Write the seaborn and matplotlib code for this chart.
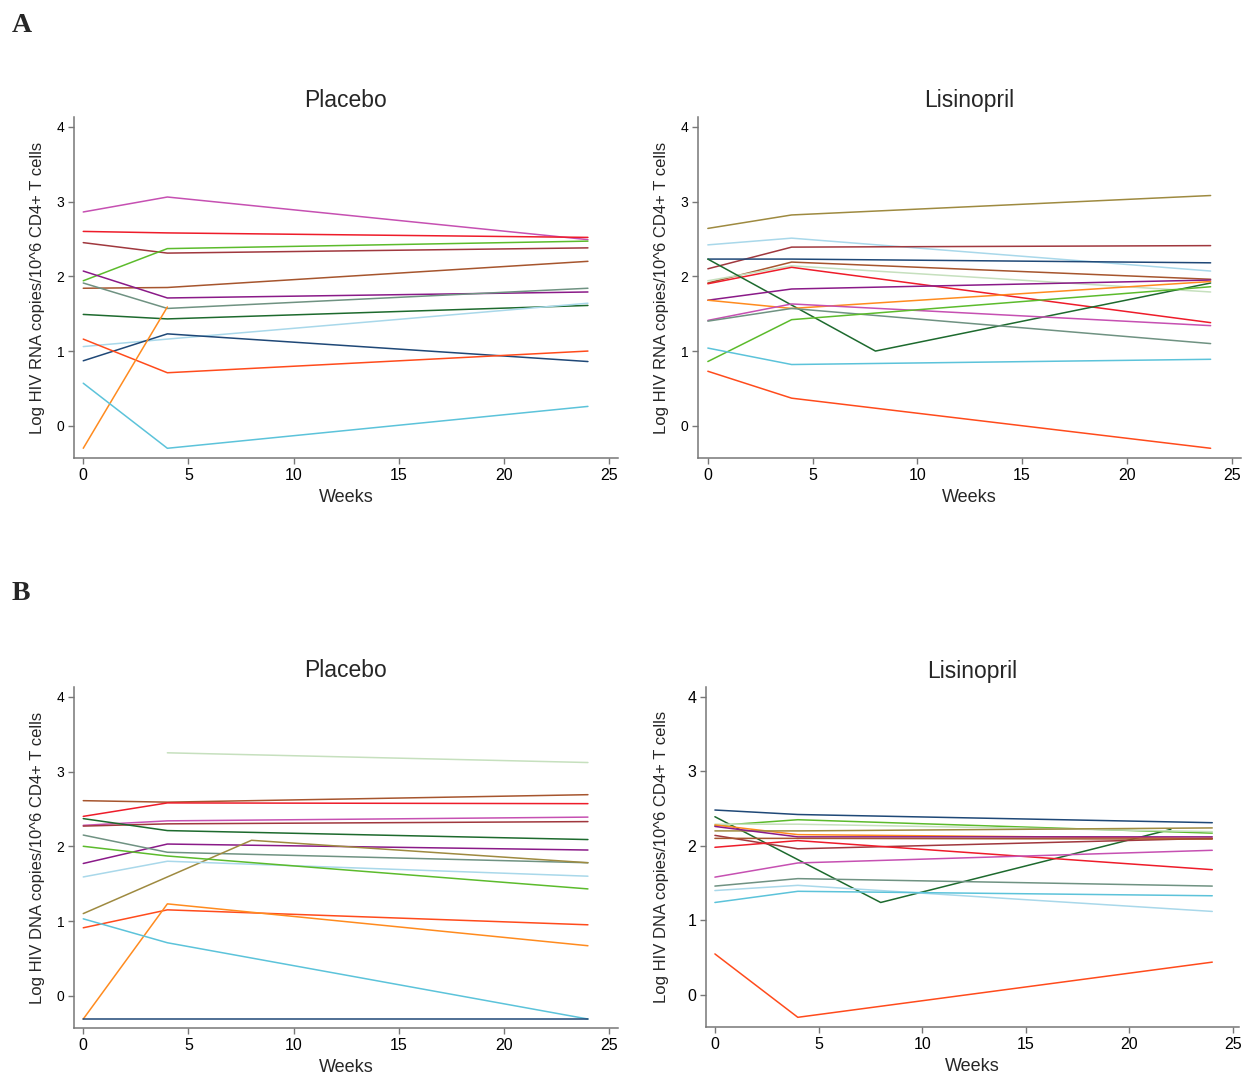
import matplotlib
matplotlib.use('Agg')
import matplotlib.pyplot as plt
import seaborn as sns
import pandas as pd

sns.set_style('ticks')
plt.rcParams['font.family'] = ['Liberation Sans', 'DejaVu Sans']

# ---------------- colours per subject ----------------
COLORS = {
    'orchid': '#c650b2', 'red': '#ee1c2a', 'maroon': '#a0383e', 'lgreen': '#5cbb2c',
    'sienna': '#a6552e', 'purple': '#8a1a88', 'graygreen': '#6f9282', 'dgreen': '#1d6a2e',
    'lblue': '#a9d8ea', 'navy': '#1f4877', 'orangered': '#ff4b1c', 'orange': '#ff8b1f',
    'cyan': '#5cc3da', 'olive': '#9e8a40', 'palegreen': '#c6e0be',
}

# ---------------- Panel A: HIV RNA, Placebo ----------------
rna_pla_ids = ['orchid', 'red', 'maroon', 'lgreen', 'sienna', 'purple', 'graygreen',
               'dgreen', 'lblue', 'navy', 'orangered', 'orange', 'cyan']
rna_pla_weeks = [[0, 4, 24]] * 11 + [[0, 4], [0, 4, 24]]
rna_pla_vals = [[2.86, 3.06, 2.49], [2.60, 2.58, 2.52], [2.45, 2.31, 2.38],
                [1.94, 2.37, 2.47], [1.84, 1.85, 2.20], [2.07, 1.71, 1.79],
                [1.91, 1.57, 1.84], [1.49, 1.43, 1.61], [1.06, 1.16, 1.64],
                [0.87, 1.23, 0.86], [1.16, 0.71, 1.00], [-0.30, 1.59],
                [0.57, -0.30, 0.26]]

# ---------------- Panel A: HIV RNA, Lisinopril ----------------
rna_lis_ids = ['olive', 'lblue', 'maroon', 'navy', 'sienna', 'palegreen', 'red', 'dgreen',
               'purple', 'orange', 'orchid', 'graygreen', 'lgreen', 'cyan', 'orangered']
rna_lis_weeks = [[0, 4, 24]] * 7 + [[0, 8, 24]] + [[0, 4, 24]] * 7
rna_lis_vals = [[2.64, 2.82, 3.08], [2.42, 2.51, 2.07], [2.10, 2.39, 2.41],
                [2.23, 2.23, 2.18], [1.91, 2.19, 1.96], [1.94, 2.14, 1.79],
                [1.90, 2.12, 1.38], [2.23, 1.00, 1.91], [1.68, 1.83, 1.95],
                [1.68, 1.57, 1.93], [1.41, 1.63, 1.34], [1.40, 1.57, 1.10],
                [0.86, 1.42, 1.86], [1.04, 0.82, 0.89], [0.73, 0.37, -0.30]]

# ---------------- Panel B: HIV DNA, Placebo ----------------
dna_pla_ids = ['palegreen', 'sienna', 'red', 'orchid', 'maroon', 'dgreen', 'purple',
               'graygreen', 'olive', 'lblue', 'lgreen', 'orangered', 'orange', 'cyan', 'navy']
dna_pla_weeks = [[4, 24]] + [[0, 4, 24]] * 7 + [[0, 8, 24]] + [[0, 4, 24]] * 6
dna_pla_vals = [[3.25, 3.12], [2.61, 2.59, 2.69], [2.40, 2.58, 2.57],
                [2.28, 2.34, 2.39], [2.27, 2.30, 2.33], [2.37, 2.21, 2.09],
                [1.77, 2.03, 1.95], [2.15, 1.92, 1.78], [1.10, 2.08, 1.78],
                [1.59, 1.80, 1.60], [2.00, 1.87, 1.43], [0.91, 1.15, 0.95],
                [-0.31, 1.23, 0.67], [1.03, 0.71, -0.31], [-0.31, -0.31, -0.31]]

# ---------------- Panel B: HIV DNA, Lisinopril ----------------
dna_lis_ids = ['navy', 'dgreen', 'lgreen', 'palegreen', 'orange', 'olive', 'purple',
               'maroon', 'sienna', 'red', 'orchid', 'graygreen', 'lblue', 'cyan', 'orangered']
dna_lis_weeks = [[0, 4, 24], [0, 8, 22]] + [[0, 4, 24]] * 13
dna_lis_vals = [[2.48, 2.42, 2.31], [2.39, 1.24, 2.22], [2.27, 2.35, 2.17],
                [2.29, 2.29, 2.19], [2.28, 2.15, 2.10], [2.20, 2.20, 2.24],
                [2.26, 2.12, 2.12], [2.14, 1.96, 2.10], [2.10, 2.10, 2.09],
                [1.98, 2.07, 1.68], [1.58, 1.77, 1.94], [1.46, 1.56, 1.46],
                [1.40, 1.47, 1.12], [1.24, 1.39, 1.33], [0.55, -0.30, 0.44]]

x_ticks = [0, 5, 10, 15, 20, 25]
y_ticks = [0, 1, 2, 3, 4]
rna_label = 'Log HIV RNA copies/10^6 CD4+ T cells'
dna_label = 'Log HIV DNA copies/10^6 CD4+ T cells'


def long_df(ids, weeks, vals):
    rows = []
    for sid, ws, vs in zip(ids, weeks, vals):
        for w, v in zip(ws, vs):
            rows.append({'subject': sid, 'week': w, 'value': v})
    return pd.DataFrame(rows)


W, H = 1248, 1075
fig = plt.figure(figsize=(W / 100, H / 100), dpi=100)


def add_ax(l, r, t, b):
    return fig.add_axes([l / W, 1 - b / H, (r - l) / W, (b - t) / H])


AXIS_GRAY = '#777777'
panels = [
    # (ids, weeks, vals, rect, xlim, ylim, title, ylabel, ytick size, ylabel x)
    (rna_pla_ids, rna_pla_weeks, rna_pla_vals, (74, 618, 117, 458), (-0.44, 25.43),
     (-0.43, 4.13), 'Placebo', rna_label, 10, -0.053),
    (rna_lis_ids, rna_lis_weeks, rna_lis_vals, (698, 1241, 117, 458), (-0.47, 25.45),
     (-0.43, 4.13), 'Lisinopril', rna_label, 10, -0.053),
    (dna_pla_ids, dna_pla_weeks, dna_pla_vals, (74, 618, 687, 1028), (-0.44, 25.43),
     (-0.43, 4.13), 'Placebo', dna_label, 10, -0.053),
    (dna_lis_ids, dna_lis_weeks, dna_lis_vals, (706, 1239, 687, 1027), (-0.43, 25.29),
     (-0.43, 4.13), 'Lisinopril', dna_label, 11.5, -0.07),
]

for ids, weeks, vals, rect, xlim, ylim, title, ylabel, ysize, ylx in panels:
    ax = add_ax(*rect)
    df = long_df(ids, weeks, vals)
    sns.lineplot(data=df, x='week', y='value', hue='subject', units='subject',
                 estimator=None, sort=False, palette=COLORS, legend=False,
                 linewidth=1.1, ax=ax)
    ax.set_xlim(*xlim)
    ax.set_ylim(*ylim)
    ax.set_xticks(x_ticks)
    ax.set_yticks(y_ticks)
    sns.despine(ax=ax)
    for s in ('left', 'bottom'):
        ax.spines[s].set_color(AXIS_GRAY)
        ax.spines[s].set_linewidth(1.1)
    ax.tick_params(axis='both', direction='out', length=4, width=1.0,
                   color=AXIS_GRAY, labelcolor='black', pad=3)
    ax.tick_params(axis='x', labelsize=11.5)
    ax.tick_params(axis='y', labelsize=ysize)
    ax.set_xlabel('Weeks', fontsize=13)
    ax.xaxis.set_label_coords(0.5, -0.092)
    ax.set_ylabel(ylabel, fontsize=12)
    ax.yaxis.set_label_coords(ylx, 0.5)
    ax.text(0.5, 1.047, title, transform=ax.transAxes, ha='center', va='center',
            fontsize=16.5)

fig.text(12 / W, 1 - 25 / H, 'A', fontsize=20, fontweight='bold',
         family=['Liberation Serif', 'DejaVu Serif'], ha='left', va='center')
fig.text(12 / W, 1 - 594 / H, 'B', fontsize=20, fontweight='bold',
         family=['Liberation Serif', 'DejaVu Serif'], ha='left', va='center')

fig.savefig('out.png', dpi=100, facecolor='white')
